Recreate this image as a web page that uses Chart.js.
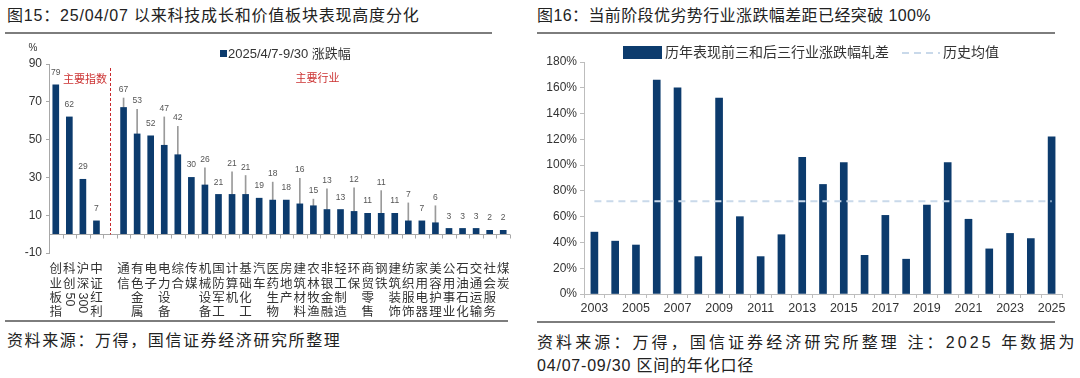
<!DOCTYPE html>
<html><head><meta charset="utf-8">
<script src="https://cdn.jsdelivr.net/npm/chart.js@4.4.1/dist/chart.umd.min.js"></script>
<style>
body{margin:0;width:1080px;height:378px;background:#fff;position:relative;overflow:hidden;font-family:"Liberation Sans","Noto Sans CJK SC",sans-serif;}
.t{position:absolute;font-size:16px;line-height:20px;color:#222;white-space:nowrap;}
.f{position:absolute;font-size:16px;line-height:23px;color:#222;white-space:nowrap;letter-spacing:1.6px;}
.rule{position:absolute;height:2px;background:#7d7d7d;}
#c1{position:absolute;left:0;top:40px;}
#c2{position:absolute;left:530px;top:40px;}
</style></head><body>
<div class="t" style="left:7px;top:6px;letter-spacing:0.8px">图15：25/04/07 以来科技成长和价值板块表现高度分化</div>
<div class="t" style="left:537px;top:6px;letter-spacing:0.4px">图16：当前阶段优劣势行业涨跌幅差距已经突破 100%</div>
<div class="rule" style="left:5px;top:32px;width:487px"></div>
<div class="rule" style="left:537px;top:32px;width:518px"></div>
<div class="rule" style="left:5px;top:320px;width:503px"></div>
<div class="rule" style="left:537px;top:321px;width:518px"></div>
<div class="f" style="left:7px;top:329px">资料来源：万得，国信证券经济研究所整理</div>
<div class="f" style="left:537px;top:331px;letter-spacing:3.1px">资料来源：万得，国信证券经济研究所整理 注：2025 年数据为</div>
<div class="f" style="left:537px;top:354px;letter-spacing:0.8px">04/07-09/30 区间的年化口径</div>
<canvas id="c1" width="520" height="285"></canvas>
<canvas id="c2" width="550" height="280"></canvas>
<script>
// ---------- Chart 1 data ----------
const categories1 = ['创业板指','科创50','沪深300','中证红利','','通信','有色金属','电子','电力设备','综合','传媒','机械设备','国防军工','计算机','基础化工','汽车','医药生物','房地产','建筑材料','农林牧渔','非银金融','轻工制造','环保','商贸零售','钢铁','建筑装饰','纺织服饰','家用电器','美容护理','公用事业','石油石化','交通运输','社会服务','煤炭'];
const values1 = [79,62,29,7,null,67,53,52,47,42,30,26,21,21,21,19,18,18,16,15,13,13,12,11,11,11,7,7,6,3,3,3,2,2];
const highs1 = [null,null,null,null,null,72,66,null,62,57,null,35,null,33,31,null,27.5,null,29.5,18.5,24,null,24.5,null,23,null,16.5,null,15,null,null,null,null,null];
const yTicks1 = {min:-10, max:90, step:20};
const series1Label = '2025/4/7-9/30 涨跌幅';
const groupLabels1 = ['主要指数','主要行业'];

// ---------- Chart 2 data ----------
const years = ['2003','2004','2005','2006','2007','2008','2009','2010','2011','2012','2013','2014','2015','2016','2017','2018','2019','2020','2021','2022','2023','2024','2025'];
const spread = [48,41,38,166,160,29,152,60,29,46,106,85,102,30,61,27,69,102,58,35,47,43,122];
const histAvg = [72,72,72,72,72,72,72,72,72,72,72,72,72,72,72,72,72,72,72,72,72,72,72];
const yTicks2 = {min:0, max:180, step:20};
const series2Labels = ['历年表现前三和后三行业涨跌幅轧差','历史均值'];

const NAVY = '#0c3b6d';
const FONT = '"Liberation Sans","Noto Sans CJK SC",sans-serif';
const NARROW = '"Liberation Sans Narrow","Liberation Sans",sans-serif';

function tokens(s){ return s.match(/[0-9]+|./gu) || []; }

const leftDecor = {
  id:'leftDecor',
  afterDatasetsDraw(chart){
    const {ctx, scales:{x,y}, chartArea} = chart;
    const y0 = Math.round(y.getPixelForValue(0)) + 0.5;
    ctx.save();
    // zero axis + tick marks between categories
    ctx.strokeStyle = '#a8a8a8'; ctx.lineWidth = 1;
    ctx.beginPath();
    ctx.moveTo(chartArea.left, y0); ctx.lineTo(chartArea.right, y0);
    const step = x.getPixelForValue(1) - x.getPixelForValue(0);
    for(let i=0;i<=categories1.length;i++){
      const px = Math.round(x.getPixelForValue(0) - step/2 + i*step) + 0.5;
      ctx.moveTo(px, y0); ctx.lineTo(px, y0 + 4);
    }
    ctx.stroke();
    // data labels
    ctx.font = '8.5px ' + NARROW; ctx.fillStyle = '#555';
    ctx.textAlign = 'center'; ctx.textBaseline = 'bottom';
    values1.forEach((v,i)=>{
      if(v == null) return;
      const h = highs1[i];
      const top = h != null ? Math.max(v,h) : v;
      ctx.fillText(String(v), x.getPixelForValue(i), y.getPixelForValue(top) - (h != null ? 4 : 8));
    });
    // red dashed separator at the empty category
    const gi = categories1.indexOf('');
    const gx = Math.round(x.getPixelForValue(gi)) + 0.5;
    ctx.strokeStyle = '#c8282d'; ctx.setLineDash([3,2]);
    ctx.beginPath(); ctx.moveTo(gx, chartArea.top + 4); ctx.lineTo(gx, y0); ctx.stroke();
    ctx.setLineDash([]);
    // group labels
    ctx.font = '11px ' + FONT; ctx.fillStyle = '#cc3333'; ctx.textBaseline = 'middle';
    ctx.fillText(groupLabels1[0], (x.getPixelForValue(0)+x.getPixelForValue(gi))/2 + 2, 40);
    ctx.fillText(groupLabels1[1], x.getPixelForValue(19) + 4, 39);
    // x labels (vertical text)
    ctx.font = '12.5px ' + FONT; ctx.fillStyle = '#333';
    const lh = 14.3;
    categories1.forEach((c,i)=>{
      const px = x.getPixelForValue(i);
      let top = chartArea.bottom + 17 - lh/2;
      tokens(c).forEach(t=>{
        if(/^[0-9]+$/.test(t)){
          const w = ctx.measureText(t).width;
          ctx.save(); ctx.translate(px, top + w/2 + 1); ctx.rotate(Math.PI/2);
          ctx.fillText(t, 0, 0); ctx.restore();
          top += w + 2;
        } else {
          ctx.fillText(t, px, top + lh/2);
          top += lh;
        }
      });
    });
    // legend
    ctx.fillStyle = NAVY; ctx.fillRect(220, 10, 7, 7);
    ctx.font = '13px ' + FONT; ctx.fillStyle = '#333'; ctx.textAlign = 'left';
    ctx.fillText(series1Label, 228, 14);
    // unit
    ctx.font = '10px ' + FONT; ctx.textAlign = 'center';
    ctx.fillText('%', 33, 8);
    ctx.restore();
  }
};

new Chart(document.getElementById('c1'), {
  type:'bar',
  data:{labels:categories1, datasets:[
    {label:series1Label, data:values1, backgroundColor:NAVY, barThickness:6, grouped:false, order:1},
    {label:'区间高点', data:highs1.map((h,i)=> h==null ? null : [values1[i], h]), backgroundColor:'#9a9a9a', barThickness:1, grouped:false, order:2}
  ]},
  options:{
    responsive:false, animation:false, events:[],
    layout:{padding:{top:24, right:10, bottom:72, left:0}},
    plugins:{legend:{display:false}, tooltip:{enabled:false}},
    scales:{
      x:{display:false, offset:true},
      y:{min:yTicks1.min, max:yTicks1.max,
         ticks:{stepSize:yTicks1.step, color:'#333', font:{size:12, family:FONT}, padding:4},
         grid:{drawOnChartArea:false, tickLength:3, color:'#a8a8a8'},
         border:{color:'#a8a8a8'},
         afterFit:s=>{s.width = 49;}}
    }
  },
  plugins:[leftDecor]
});

const rightLegend = {
  id:'rightLegend',
  afterDraw(chart){
    const ctx = chart.ctx;
    ctx.save();
    ctx.fillStyle = NAVY; ctx.fillRect(93, 6, 39, 13);
    ctx.font = '14px ' + FONT; ctx.fillStyle = '#333'; ctx.textBaseline = 'middle'; ctx.textAlign = 'left';
    ctx.fillText(series2Labels[0], 135, 13);
    ctx.strokeStyle = '#c9d9ea'; ctx.lineWidth = 2; ctx.setLineDash([7,5]);
    ctx.beginPath(); ctx.moveTo(372, 13); ctx.lineTo(410, 13); ctx.stroke();
    ctx.setLineDash([]);
    ctx.fillText(series2Labels[1], 413, 13);
    ctx.restore();
  }
};

new Chart(document.getElementById('c2'), {
  data:{labels:years, datasets:[
    {type:'bar', label:series2Labels[0], data:spread, backgroundColor:NAVY, barThickness:7, order:2},
    {type:'line', label:series2Labels[1], data:histAvg, borderColor:'#c9d9ea', borderDash:[7,5], borderWidth:2, pointRadius:0, order:1}
  ]},
  options:{
    responsive:false, animation:false, events:[],
    layout:{padding:{top:22, right:18, bottom:0, left:0}},
    plugins:{legend:{display:false}, tooltip:{enabled:false}},
    scales:{
      x:{offset:true,
         grid:{drawOnChartArea:false, tickLength:4, color:'#bdbdbd', offset:true},
         border:{color:'#bdbdbd'},
         ticks:{autoSkip:false, maxRotation:0, padding:3, color:'#333', font:{size:12.5, family:NARROW},
                callback:(v,i)=> i%2===0 ? years[i] : ''},
         afterFit:s=>{s.height = 26;}},
      y:{min:yTicks2.min, max:yTicks2.max,
         ticks:{stepSize:yTicks2.step, color:'#333', font:{size:12, family:NARROW}, padding:3, callback:v=> v + '%'},
         grid:{drawOnChartArea:false, tickLength:4, color:'#bdbdbd'},
         border:{color:'#bdbdbd'},
         afterFit:s=>{s.width = 54;}}
    }
  },
  plugins:[rightLegend]
});
</script>
</body></html>
